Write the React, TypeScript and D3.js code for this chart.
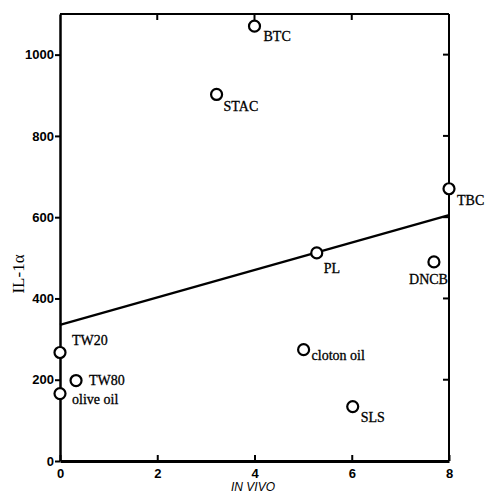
import { useEffect, useRef } from "react";
import * as d3 from "d3";

// chemicals: in vivo score vs IL-1 alpha release
const names = ["BTC", "STAC", "TBC", "PL", "DNCB", "cloton oil", "SLS", "TW20", "TW80", "olive oil"];
const inVivo = [4.0, 3.22, 8.0, 5.28, 7.69, 5.01, 6.02, 0.0, 0.33, 0.0];
const il1a = [1070, 902, 670, 512, 490, 274, 134, 267, 198, 166];

// regression line end points
const fitX = [0, 8];
const fitY = [335, 605];

const xTicks = [0, 2, 4, 6, 8];
const yTicks = [0, 200, 400, 600, 800, 1000];

// label offsets from the marker [dx, dy, anchor]
const labelPos: [number, number, string][] = [
  [9, 15, "start"],
  [7, 17, "start"],
  [8, 16, "start"],
  [7, 20, "start"],
  [14, 22, "end"],
  [8, 10, "start"],
  [8, 15, "start"],
  [12, -8, "start"],
  [13, 4, "start"],
  [12, 10, "start"],
];

const App = () => {
  const svgRef = useRef(null);

  useEffect(() => {
    const W = 485;
    const H = 495;
    const M = { left: 60, right: 36, top: 14, bottom: 34 };

    const svg = d3.select(svgRef.current).attr("width", W).attr("height", H);
    svg.selectAll("*").remove();

    const x = d3.scaleLinear().domain([0, 8]).range([M.left, W - M.right]);
    const y = d3.scaleLinear().domain([0, 1100]).range([H - M.bottom, M.top]);

    const tickFont = "Liberation Sans, Arial, sans-serif";
    const serif = "Liberation Serif, Times New Roman, serif";

    // frame
    const g = svg.append("g");
    g.append("line").attr("x1", x(0)).attr("x2", x(8)).attr("y1", y(1100)).attr("y2", y(1100))
      .attr("stroke", "#000").attr("stroke-width", 2);
    g.append("line").attr("x1", x(8)).attr("x2", x(8)).attr("y1", y(0)).attr("y2", y(1100))
      .attr("stroke", "#000").attr("stroke-width", 2);

    // left axis, outer ticks
    const left = svg.append("g").attr("transform", `translate(${x(0)},0)`)
      .call(d3.axisLeft(y).tickValues(yTicks).tickFormat(d3.format("d")).tickSize(5).tickSizeOuter(0).tickPadding(1));
    left.select(".domain").attr("stroke-width", 2.5);
    left.selectAll(".tick line").attr("stroke-width", 2);
    left.selectAll(".tick text").attr("font-family", tickFont).attr("font-weight", "bold")
      .attr("font-size", 13).attr("fill", "#000");

    // bottom axis, inner ticks
    const bottom = svg.append("g").attr("transform", `translate(0,${y(0)})`)
      .call(d3.axisBottom(x).tickValues(xTicks).tickSizeInner(-6).tickSizeOuter(0).tickPadding(8));
    bottom.select(".domain").attr("stroke-width", 3);
    bottom.selectAll(".tick line").attr("stroke-width", 2);
    bottom.selectAll(".tick text").attr("font-family", tickFont).attr("font-weight", "bold")
      .attr("font-size", 13).attr("fill", "#000");

    // inner ticks on top and right
    g.selectAll(".tt").data(xTicks.slice(1, 4)).enter().append("line")
      .attr("x1", (d) => x(d)).attr("x2", (d) => x(d)).attr("y1", y(1100)).attr("y2", y(1100) + 6)
      .attr("stroke", "#000").attr("stroke-width", 2);
    g.selectAll(".rt").data(yTicks.slice(1)).enter().append("line")
      .attr("x1", x(8)).attr("x2", x(8) - 6).attr("y1", (d) => y(d)).attr("y2", (d) => y(d))
      .attr("stroke", "#000").attr("stroke-width", 2);

    // fit line
    svg.append("line")
      .attr("x1", x(fitX[0])).attr("y1", y(fitY[0]))
      .attr("x2", x(fitX[1])).attr("y2", y(fitY[1]))
      .attr("stroke", "#000").attr("stroke-width", 2.2);

    const pts = names.map((n, i) => ({ n, vx: inVivo[i], vy: il1a[i], p: labelPos[i] }));

    svg.selectAll(".pt").data(pts).enter().append("circle")
      .attr("cx", (d) => x(d.vx)).attr("cy", (d) => y(d.vy)).attr("r", 5.5)
      .attr("fill", "#fff").attr("stroke", "#000").attr("stroke-width", 2.2);

    svg.selectAll(".lbl").data(pts).enter().append("text")
      .attr("x", (d) => x(d.vx) + d.p[0]).attr("y", (d) => y(d.vy) + d.p[1])
      .attr("text-anchor", (d) => d.p[2])
      .attr("font-family", serif).attr("font-size", 14)
      .attr("stroke", "#000").attr("stroke-width", 0.3)
      .text((d) => d.n);

    // axis titles
    svg.append("text")
      .attr("transform", `translate(24,${274}) rotate(-90)`)
      .attr("text-anchor", "middle").attr("font-family", serif).attr("font-size", 17)
      .text("IL-1α");
    svg.append("text")
      .attr("x", 253).attr("y", 491).attr("text-anchor", "middle")
      .attr("font-family", tickFont).attr("font-style", "italic").attr("font-size", 12)
      .text("IN VIVO");
  }, []);

  return (
    <svg ref={svgRef} style={{ position: "absolute", left: 0, top: 0, background: "#fff" }} />
  );
};

export default App;
